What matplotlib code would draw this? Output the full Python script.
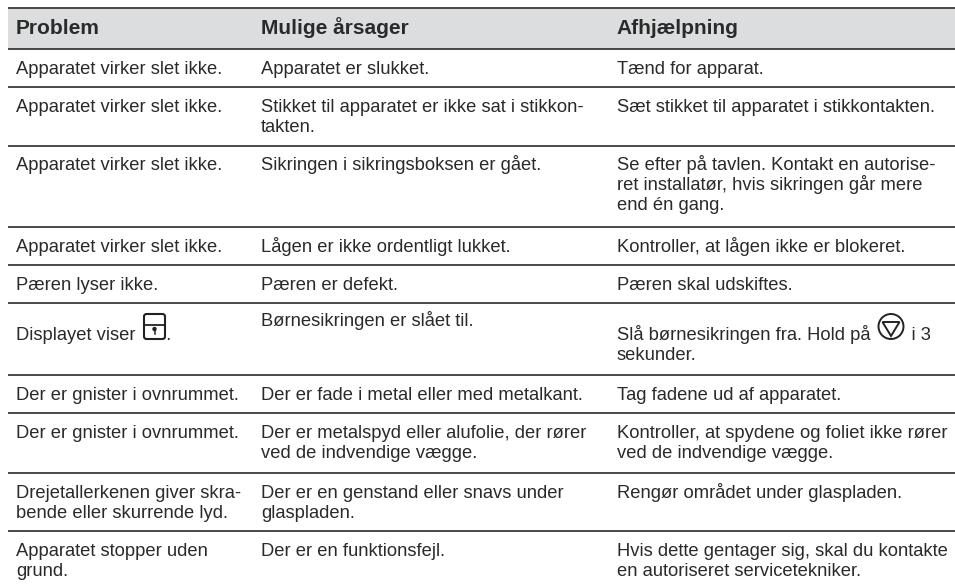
import matplotlib
matplotlib.use("Agg")
import matplotlib.pyplot as plt
from matplotlib.patches import Rectangle, Circle, FancyBboxPatch, Polygon

headers = ["Problem", "Mulige årsager", "Afhjælpning"]
problems = [
    "Apparatet virker slet ikke.", "Apparatet virker slet ikke.", "Apparatet virker slet ikke.",
    "Apparatet virker slet ikke.", "Pæren lyser ikke.", "Displayet viser      .",
    "Der er gnister i ovnrummet.", "Der er gnister i ovnrummet.",
    "Drejetallerkenen giver skra-\nbende eller skurrende lyd.", "Apparatet stopper uden\ngrund.",
]
causes = [
    "Apparatet er slukket.", "Stikket til apparatet er ikke sat i stikkon-\ntakten.",
    "Sikringen i sikringsboksen er gået.", "Lågen er ikke ordentligt lukket.",
    "Pæren er defekt.", "Børnesikringen er slået til.",
    "Der er fade i metal eller med metalkant.",
    "Der er metalspyd eller alufolie, der rører\nved de indvendige vægge.",
    "Der er en genstand eller snavs under\nglaspladen.", "Der er en funktionsfejl.",
]
remedies = [
    "Tænd for apparat.", "Sæt stikket til apparatet i stikkontakten.",
    "Se efter på tavlen. Kontakt en autorise-\nret installatør, hvis sikringen går mere\nend én gang.",
    "Kontroller, at lågen ikke er blokeret.", "Pæren skal udskiftes.",
    "Slå børnesikringen fra. Hold på        i 3\nsekunder.",
    "Tag fadene ud af apparatet.",
    "Kontroller, at spydene og foliet ikke rører\nved de indvendige vægge.",
    "Rengør området under glaspladen.",
    "Hvis dette gentager sig, skal du kontakte\nen autoriseret servicetekniker.",
]

rules_y = [8, 49, 87, 146, 227, 265, 303, 375, 413, 473, 531]
col_x = [16, 261, 616.5]
W, H = 955, 587
INK = "#2a2a2a"
LINE = "#3a3a3a"
FS = 13.25
LEAD = 20

plt.rcParams["font.family"] = ["Liberation Sans", "DejaVu Sans"]
fig = plt.figure(figsize=(W / 100, H / 100), dpi=100)
ax = fig.add_axes([0, 0, 1, 1])
ax.set_xlim(0, W)
ax.set_ylim(H, 0)
ax.axis("off")

ax.add_patch(Rectangle((8, rules_y[0]), W - 8, rules_y[1] - rules_y[0], fc="#dcddde", ec="none"))
for y in rules_y:
    ax.plot([8, W], [y, y], color=LINE, lw=1.3, solid_capstyle="butt")

for x, h in zip(col_x, headers):
    ax.text(x, 33.5, h, fontsize=15, fontweight="bold", color=INK, va="baseline", ha="left")

for r in range(len(problems)):
    top = rules_y[r + 1]
    for c, cell in enumerate((problems[r], causes[r], remedies[r])):
        off = 24.5
        if r == 5:
            off = (37.5, 23.5, 37.5)[c]
        for i, line in enumerate(cell.split("\n")):
            ax.text(col_x[c], top + off + i * LEAD, line, fontsize=FS, color=INK, va="baseline", ha="left")

# child-lock icon
ax.add_patch(FancyBboxPatch((144, 314), 21, 25, boxstyle="round,pad=0,rounding_size=2.5", fc="none", ec="#222222", lw=1.5))
ax.plot([144, 165], [325, 325], color="#222222", lw=1.3)
ax.add_patch(Circle((154.5, 329), 2.2, fc="#222222", ec="none"))
ax.plot([154.5, 154.5], [329, 334], color="#222222", lw=1.1)

# stop/cancel icon
ax.add_patch(Circle((891, 326.5), 12.5, fc="none", ec="#222222", lw=1.4))
ax.add_patch(Polygon([(882.5, 322), (899.5, 322), (891, 336)], closed=True, fc="none", ec="#222222", lw=1.4))

fig.savefig("out.png", dpi=100, facecolor="white")
